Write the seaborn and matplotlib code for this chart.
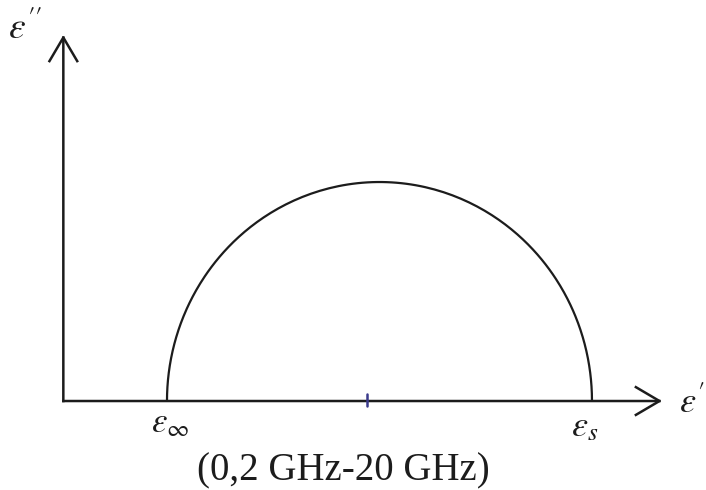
import numpy as np
import pandas as pd
import matplotlib
matplotlib.use("Agg")
import matplotlib.pyplot as plt
from matplotlib.patches import FancyArrowPatch
import seaborn as sns

# Debye relaxation parameters (schematic permittivity limits)
eps_inf = 1.0
eps_s = 5.1
# normalised angular frequency  omega * tau
omega_tau = np.logspace(-3, 3, 600)
# small pen mark on the real axis
mark_x = [2.93]

axis_labels = {
    "imag": r"$\varepsilon''$",
    "real": r"$\varepsilon'$",
    "inf": r"$\varepsilon_{\infty}$",
    "static": r"$\varepsilon_{s}$",
}
caption = "(0,2 GHz-20 GHz)"

# Cole-Cole locus of a single Debye relaxation
eps_complex = eps_inf + (eps_s - eps_inf) / (1 + 1j * omega_tau)
df = pd.DataFrame({"eps_real": eps_complex.real, "eps_imag": -eps_complex.imag})

sns.set_style("white")
plt.rcParams["mathtext.fontset"] = "stix"
plt.rcParams["font.family"] = ["Liberation Serif", "DejaVu Serif"]

fig = plt.figure(figsize=(7.06, 4.90), dpi=100)
ax = fig.add_axes([0, 0, 1, 1])
ax.set_xlim(-0.611, 6.200)
ax.set_ylim(-0.833, 3.754)
ax.axis("off")

ink = "#1c1c1c"

sns.lineplot(data=df, x="eps_real", y="eps_imag", sort=False, ax=ax,
             color=ink, linewidth=1.6, legend=False)

# coordinate axes with open arrow heads
for end in [(5.775, 0.0), (0.0, 3.426)]:
    arr = FancyArrowPatch((0.0, 0.0), end,
                          arrowstyle="->,head_length=0.85,head_width=0.5",
                          mutation_scale=20, color=ink, linewidth=1.8,
                          shrinkA=0, shrinkB=0, capstyle="projecting")
    ax.add_patch(arr)

ax.plot(mark_x * 2, [-0.05, 0.07], color="#3a3a8c", linewidth=1.8)

ax.text(0.011, 0.920, axis_labels["imag"], transform=ax.transAxes,
        fontsize=27, color=ink, ha="left", va="baseline")
ax.text(0.962, 0.157, axis_labels["real"], transform=ax.transAxes,
        fontsize=26, color=ink, ha="left", va="baseline")
ax.text(0.214, 0.117, axis_labels["inf"], transform=ax.transAxes,
        fontsize=25, color=ink, ha="left", va="baseline")
ax.text(0.809, 0.110, axis_labels["static"], transform=ax.transAxes,
        fontsize=26, color=ink, ha="left", va="baseline")
ax.text(0.486, 0.020, caption, transform=ax.transAxes,
        fontsize=28, color=ink, ha="center", va="baseline")

fig.savefig("out.png", dpi=100)
